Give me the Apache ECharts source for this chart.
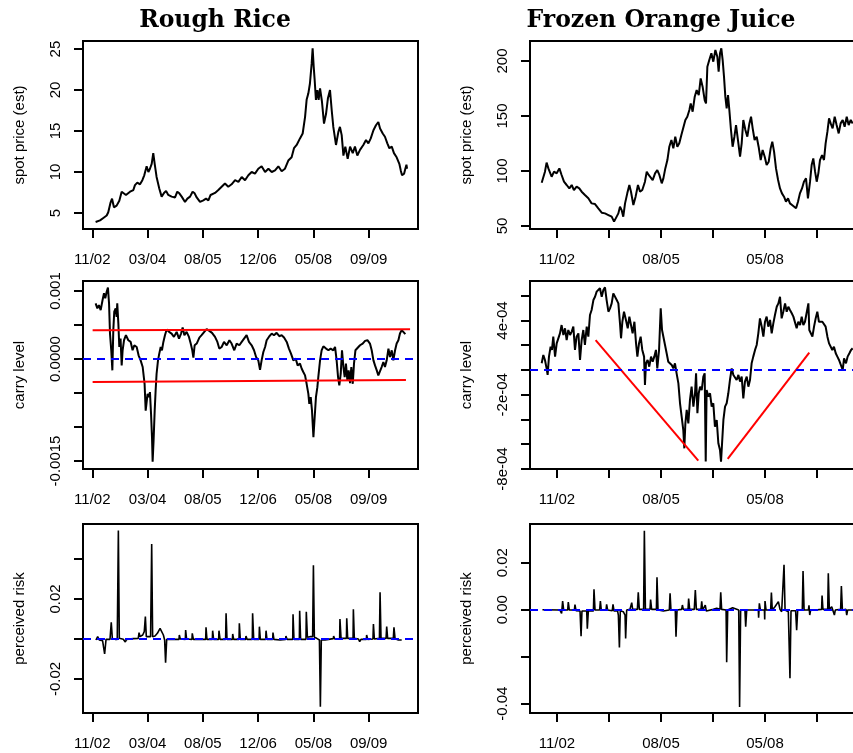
<!DOCTYPE html>
<html>
<head>
<meta charset="utf-8">
<script src="https://cdn.jsdelivr.net/npm/echarts@6/dist/echarts.min.js"></script>
<style>
  html, body { margin: 0; padding: 0; background: #ffffff; }
  #chart { width: 853px; height: 753px; }
</style>
</head>
<body>
<div id="chart"></div>
<script>
// ---- time axis: trading-day index, labelled by month/year ----
const xTickDays   = [0, 350, 700, 1050, 1400, 1750];
const xTickLabels = ['11/02', '03/04', '08/05', '12/06', '05/08', '09/09'];
const riceXLabelDays = [0, 350, 700, 1050, 1400, 1750];
const ojXLabelDays   = [0, 700, 1400];

// ---- Rough Rice: estimated spot price ----
const riceSpotDays = [21,49,70,91,101,116,125,137,154,171,186,196,213,239,260,270,285,302,317,329,344,355,365,376,386,395,407,424,439,454,467,481,502,524,538,551,566,587,602,619,635,648,661,682,703,720,735,749,777,798,819,840,861,882,904,925,946,967,988,1009,1030,1051,1072,1094,1115,1136,1157,1178,1199,1220,1241,1262,1277,1294,1315,1332,1347,1357,1368,1378,1389,1395,1402,1408,1416,1425,1433,1442,1454,1467,1480,1492,1505,1516,1526,1543,1558,1568,1579,1590,1602,1617,1632,1649,1663,1678,1695,1716,1733,1748,1763,1780,1796,1811,1822,1839,1853,1868,1881,1896,1910,1927,1944,1953,1961,1974,1982,1989,1993];
const riceSpotVals = [3.9,4.1,4.4,4.7,5.1,6.3,6.75,5.7,5.9,6.5,7.6,7.8,7.2,7.6,7.8,8.4,8.7,8.5,9.0,9.6,10.7,10.0,10.4,11.0,12.3,11.0,9.4,8.0,7.0,7.45,7.7,7.2,7.0,6.9,7.6,7.4,7.0,6.35,6.75,7.0,7.6,7.4,6.9,6.35,6.55,6.75,6.55,7.2,7.45,7.8,8.2,8.6,8.2,8.5,9.0,8.8,9.4,9.0,9.6,10.0,9.8,10.4,10.7,10.0,10.4,10.0,10.2,10.7,10.1,10.4,11.4,11.8,12.9,13.3,14.1,14.7,16.7,18.8,19.6,20.8,23.25,25.1,22.8,21.2,18.8,20.0,18.8,20.2,18.6,15.9,17.1,19.0,20.0,17.5,15.5,13.3,14.9,15.5,14.5,12.0,13.1,11.6,13.1,12.3,13.1,12.0,12.7,13.3,13.9,13.5,14.1,15.1,15.7,16.1,15.3,14.7,14.3,13.5,12.9,13.1,12.3,11.8,11.0,10.2,9.6,9.8,10.4,10.9,10.4];

// ---- Rough Rice: carry level ----
const riceCarryDays = [21,32,42,53,65,74,82,91,99,106,112,120,127,133,139,148,154,158,165,171,179,186,192,201,213,228,243,255,266,281,293,306,319,331,338,344,350,359,365,372,378,382,388,395,401,407,416,424,433,441,450,460,471,486,502,517,534,549,562,572,583,597,612,623,633,640,648,661,678,692,709,724,741,758,777,792,804,819,834,851,868,882,899,914,931,946,961,977,992,1009,1024,1037,1051,1062,1072,1083,1094,1104,1121,1136,1150,1167,1184,1199,1214,1231,1245,1258,1273,1288,1300,1315,1326,1336,1347,1357,1368,1374,1383,1391,1400,1408,1416,1425,1431,1442,1452,1463,1480,1495,1509,1526,1537,1547,1556,1564,1573,1581,1590,1598,1606,1615,1623,1632,1640,1649,1657,1666,1678,1695,1712,1727,1742,1758,1769,1780,1790,1801,1811,1822,1832,1843,1853,1864,1875,1885,1896,1906,1917,1927,1938,1948,1959,1970,1982];
const riceCarryVals = [8.18e-4,7.44e-4,7.93e-4,7.19e-4,8.67e-4,9.66e-4,8.92e-4,9.9e-4,10.5e-4,8.18e-4,3.74e-4,1.28e-4,-1.67e-4,4.24e-4,6.95e-4,7.44e-4,6.2e-4,8.18e-4,5.22e-4,1.77e-4,3.0e-4,-0.94e-4,1.28e-4,2.76e-4,3.5e-4,2.76e-4,2.51e-4,1.28e-4,2.02e-4,1.77e-4,0.54e-4,-0.2e-4,-1.18e-4,-3.65e-4,-7.59e-4,-6.35e-4,-5.12e-4,-5.62e-4,-4.88e-4,-8.08e-4,-11.5e-4,-15.1e-4,-12.0e-4,-7.59e-4,-4.63e-4,-2.17e-4,-0.2e-4,0.79e-4,1.77e-4,1.28e-4,2.51e-4,3.5e-4,4.33e-4,3.99e-4,3.74e-4,3.25e-4,3.99e-4,3.0e-4,3.74e-4,4.63e-4,3.5e-4,3.99e-4,3.25e-4,2.27e-4,1.28e-4,0.2e-4,2.02e-4,2.27e-4,3.15e-4,3.5e-4,3.99e-4,4.38e-4,4.14e-4,3.84e-4,3.25e-4,2.51e-4,1.53e-4,1.77e-4,2.51e-4,2.02e-4,2.76e-4,2.27e-4,1.28e-4,2.27e-4,2.02e-4,2.51e-4,3.0e-4,3.5e-4,2.51e-4,2.02e-4,1.28e-4,0.3e-4,-0.2e-4,-1.58e-4,-0.2e-4,1.03e-4,1.77e-4,2.76e-4,3.35e-4,3.74e-4,3.5e-4,3.84e-4,3.35e-4,3.5e-4,3.15e-4,2.51e-4,1.53e-4,0.79e-4,-0.2e-4,0.05e-4,-0.94e-4,-0.69e-4,-1.43e-4,-1.92e-4,-2.41e-4,-3.65e-4,-5.12e-4,-6.6e-4,-5.62e-4,-7.59e-4,-11.5e-4,-8.57e-4,-5.62e-4,-4.14e-4,-2.66e-4,-0.2e-4,1.28e-4,1.87e-4,1.53e-4,1.28e-4,1.53e-4,1.28e-4,1.77e-4,-0.2e-4,-2.66e-4,-3.89e-4,-2.17e-4,1.28e-4,-1.18e-4,-2.66e-4,-0.69e-4,-3.15e-4,-1.67e-4,-3.55e-4,-1.18e-4,-3.65e-4,-0.69e-4,1.28e-4,1.53e-4,2.02e-4,2.27e-4,2.66e-4,2.76e-4,2.27e-4,1.28e-4,-0.2e-4,-0.94e-4,-1.67e-4,-2.41e-4,-2.66e-4,-1.18e-4,-0.44e-4,-1.18e-4,-0.2e-4,1.53e-4,0.3e-4,1.28e-4,-0.2e-4,1.28e-4,2.27e-4,2.76e-4,3.74e-4,4.24e-4,3.99e-4,3.65e-4];
// carry bands
const riceBandUpperDays = [2, 2012];
const riceBandUpperVals = [4.24e-4, 4.38e-4];
const riceBandLowerDays = [2, 1986];
const riceBandLowerVals = [-3.40e-4, -3.10e-4];

// ---- Rough Rice: perceived risk ----
const riceRiskDays = [23,34,44,65,78,87,112,120,127,144,158,165,171,196,209,217,260,291,296,302,319,329,336,342,355,369,376,382,397,412,429,439,450,458,464,471,513,549,551,557,589,591,597,631,633,640,718,720,726,760,762,768,800,802,809,844,847,853,887,889,895,929,931,937,971,973,980,1013,1015,1022,1056,1058,1064,1098,1100,1106,1142,1144,1150,1189,1224,1226,1233,1269,1271,1277,1311,1313,1319,1353,1355,1362,1378,1395,1400,1406,1421,1438,1444,1450,1473,1484,1495,1526,1528,1535,1566,1568,1575,1609,1611,1617,1651,1653,1659,1685,1693,1701,1735,1737,1744,1777,1780,1786,1818,1822,1828,1860,1864,1870,1906,1910,1917,1938,1948,1959];
const riceRiskVals = [-0.0005,0.00117,-0.0005,-0.00083,-0.0075,-0.00017,-0.00017,0.00833,0.00017,-0.00017,-0.00017,0.0542,0.00033,-0.00017,-0.0015,-0.00017,0.00017,0.00033,0.00317,0.00117,0.002,0.00367,0.01117,0.00117,0.00117,0.00117,0.0475,0.00117,0.0015,0.00283,0.00533,0.00583,0.002,-0.0005,-0.01183,-0.00017,-0.00017,-0.00017,0.002,0,-0.00017,0.0045,0,-0.00017,0.00283,-0.00017,-0.00017,0.00583,-0.00017,-0.00017,0.00417,-0.00017,-0.00017,0.00417,-0.00017,-0.00017,0.01283,-0.00017,-0.00017,0.0025,-0.00017,-0.00017,0.00783,-0.00017,-0.00017,0.0015,-0.00017,-0.00017,0.01283,-0.00017,-0.00017,0.00617,-0.00017,-0.00017,0.00417,-0.00017,-0.00017,0.00317,-0.00017,-0.0005,-0.00017,0.0015,-0.00017,-0.00017,0.01233,-0.00017,-0.00017,0.01417,-0.00017,-0.00017,0.01367,0.00083,0.00117,0.00117,0.03683,0.00083,0.00033,-0.0005,-0.03383,-0.0005,-0.0005,-0.0015,-0.00017,0.00017,0.0015,0,0,0.01,0.00033,0.00033,0.01033,0.00033,0.00033,0.01483,0.00033,0,-0.00133,-0.00017,-0.00017,0.002,-0.00017,0,0.0075,0,0.00033,0.02333,0.00033,0.00033,0.00617,0.00033,0.00033,0.00583,0.00017,-0.0005,-0.00133,-0.0005];

// ---- Frozen Orange Juice: estimated spot price ----
const ojSpotDays = [-103,-92,-81,-70,-58,-47,-36,-20,-2,16,31,47,65,83,99,114,132,150,166,188,211,233,256,278,301,323,346,368,384,397,413,424,435,446,458,473,487,498,514,529,545,559,574,592,604,617,630,644,660,675,689,705,716,729,743,756,770,783,796,810,823,837,850,864,877,891,900,913,927,940,954,967,980,994,1003,1012,1025,1039,1052,1066,1079,1088,1097,1106,1115,1124,1133,1142,1151,1160,1171,1182,1194,1205,1218,1232,1243,1254,1268,1281,1295,1306,1317,1330,1344,1357,1371,1384,1398,1411,1425,1438,1449,1461,1474,1488,1501,1514,1528,1541,1555,1568,1582,1595,1609,1622,1635,1649,1662,1676,1689,1703,1714,1725,1737,1748,1759,1770,1784,1797,1808,1820,1831,1842,1855,1869,1882,1896,1909,1923,1936,1950,1963,1977,1990];
const ojSpotVals = [89.4,90.3,99.4,107.6,102.4,103.9,94.8,99.4,97.9,102.4,96.4,90.3,87.3,84.2,87.3,82.7,85.8,84.2,81.2,78.2,75.2,70.6,70.0,66.1,62.1,61.5,60.0,58.5,54.0,54.0,61.5,67.6,64.5,58.5,70.6,79.7,87.3,81.2,69.1,76.7,87.3,81.2,82.7,90.3,99.4,96.4,94.8,91.8,97.9,100.9,96.4,88.8,93.3,102.4,110.0,122.1,128.2,120.6,131.2,122.1,125.2,132.7,134.2,146.4,149.4,155.5,161.5,153.9,167.6,173.6,169.1,184.2,176.7,164.5,161.5,194.8,200.9,207.0,199.4,210.0,203.9,190.3,207.0,211.5,200.9,185.8,167.6,157.0,169.1,155.5,137.3,122.1,131.2,141.8,128.2,113.0,125.2,146.4,137.3,131.2,143.3,149.4,138.8,128.2,131.2,122.1,110.0,119.1,113.0,105.5,108.5,120.6,126.7,117.6,102.4,91.8,84.2,79.7,76.7,72.1,75.2,70.6,69.1,67.6,66.1,72.1,79.7,84.2,90.3,93.3,75.2,90.3,105.5,111.5,99.4,90.3,97.9,110.0,114.5,110.0,125.2,135.8,147.9,143.3,138.8,149.4,141.8,134.2,143.3,146.4,140.3,149.4,141.8,146.4,143.3];

// ---- Frozen Orange Juice: carry level ----
const ojCarryDays = [-103,-92,-81,-70,-63,-54,-43,-34,-25,-13,-2,9,20,31,43,54,65,76,88,99,110,121,132,144,155,166,177,188,200,211,222,233,245,256,267,278,289,301,312,323,334,346,357,368,379,390,402,413,424,431,440,451,464,476,487,498,509,521,532,541,552,563,574,586,592,599,610,621,633,644,655,666,675,687,698,707,716,727,738,749,761,772,783,794,805,817,828,839,850,857,864,873,884,895,906,918,929,936,945,954,963,974,985,994,1001,1007,1019,1030,1041,1052,1063,1075,1086,1097,1104,1111,1120,1131,1142,1153,1164,1176,1187,1198,1209,1221,1232,1243,1254,1265,1277,1288,1299,1310,1321,1333,1344,1355,1366,1378,1389,1400,1411,1422,1434,1445,1456,1467,1479,1490,1501,1512,1523,1535,1546,1557,1568,1580,1591,1602,1613,1624,1636,1647,1658,1669,1680,1692,1698,1707,1719,1730,1741,1752,1763,1775,1786,1797,1808,1820,1831,1842,1853,1864,1876,1887,1898,1909,1923,1932,1945,1956,1968,1979,1990];
const ojCarryVals = [0.54e-4,1.21e-4,0.81e-4,0.13e-4,-0.40e-4,1.08e-4,1.88e-4,1.62e-4,2.69e-4,1.08e-4,2.15e-4,2.29e-4,2.96e-4,3.63e-4,2.83e-4,3.37e-4,2.42e-4,3.23e-4,2.83e-4,3.10e-4,3.50e-4,1.62e-4,2.69e-4,2.96e-4,0.81e-4,2.42e-4,3.23e-4,2.02e-4,3.50e-4,2.69e-4,4.44e-4,4.85e-4,5.65e-4,5.92e-4,6.33e-4,6.19e-4,6.60e-4,5.92e-4,6.46e-4,6.68e-4,5.65e-4,4.71e-4,4.98e-4,5.38e-4,6.19e-4,6.33e-4,5.65e-4,5.38e-4,3.77e-4,2.56e-4,3.90e-4,4.71e-4,4.04e-4,3.37e-4,4.31e-4,3.63e-4,2.96e-4,3.90e-4,2.15e-4,1.08e-4,2.15e-4,2.69e-4,1.62e-4,1.08e-4,-1.21e-4,0.54e-4,0.81e-4,0.27e-4,1.08e-4,0.67e-4,1.08e-4,1.62e-4,0.13e-4,1.62e-4,4.98e-4,3.23e-4,2.69e-4,2.02e-4,1.35e-4,0.67e-4,0.54e-4,0.40e-4,0.13e-4,0.54e-4,-0.27e-4,-1.08e-4,-2.69e-4,-3.77e-4,-4.85e-4,-6.33e-4,-4.31e-4,-3.23e-4,-4.31e-4,-2.42e-4,-1.35e-4,-2.96e-4,-1.88e-4,-0.27e-4,-3.50e-4,-1.88e-4,-1.35e-4,-1.62e-4,-0.54e-4,-0.27e-4,-7.40e-4,-1.62e-4,-2.15e-4,-1.88e-4,-2.96e-4,-2.69e-4,-4.58e-4,-4.04e-4,-5.92e-4,-6.46e-4,-7.40e-4,-5.92e-4,-4.04e-4,-2.96e-4,-2.69e-4,-1.88e-4,-0.81e-4,0.13e-4,-0.40e-4,-0.27e-4,-0.81e-4,-0.40e-4,-0.94e-4,-0.54e-4,-2.29e-4,-0.94e-4,-0.54e-4,-1.35e-4,-0.81e-4,0.54e-4,1.08e-4,1.62e-4,2.02e-4,2.96e-4,4.17e-4,3.50e-4,2.69e-4,3.90e-4,4.31e-4,3.50e-4,4.04e-4,2.96e-4,3.77e-4,4.44e-4,5.11e-4,5.38e-4,5.92e-4,4.17e-4,4.71e-4,5.38e-4,4.71e-4,5.11e-4,4.85e-4,4.58e-4,4.31e-4,4.44e-4,3.37e-4,3.90e-4,3.63e-4,4.31e-4,3.63e-4,3.90e-4,4.04e-4,5.38e-4,3.23e-4,3.37e-4,2.69e-4,3.50e-4,4.17e-4,4.71e-4,3.90e-4,4.04e-4,3.90e-4,3.77e-4,3.50e-4,2.69e-4,2.15e-4,2.15e-4,1.62e-4,1.88e-4,1.35e-4,1.08e-4,0.81e-4,0.94e-4,0,0.94e-4,0.54e-4,1.08e-4,1.35e-4,1.62e-4,1.75e-4];
// trend guides
const ojFallDays = [260, 951];
const ojFallVals = [2.42e-4, -7.32e-4];
const ojRiseDays = [1149, 1698];
const ojRiseVals = [-7.19e-4, 1.40e-4];

// ---- Frozen Orange Juice: perceived risk ----
const ojRiskDays = [-98,20,31,38,45,72,76,83,117,121,128,155,162,168,200,204,211,245,249,256,287,292,298,330,334,341,372,377,384,408,413,420,426,446,458,462,469,491,503,509,541,547,554,583,588,595,626,630,637,669,673,680,716,727,756,761,767,796,801,808,839,844,850,882,886,893,924,931,938,969,974,980,998,1005,1012,1052,1075,1097,1102,1108,1138,1142,1149,1182,1191,1223,1229,1236,1265,1270,1277,1310,1355,1357,1362,1369,1396,1398,1400,1407,1438,1443,1449,1467,1490,1501,1512,1524,1528,1535,1557,1568,1575,1606,1613,1620,1651,1656,1663,1692,1696,1701,1707,1737,1781,1784,1790,1822,1826,1833,1849,1860,1867,1873,1909,1914,1921,1945,1950,1956,1990];
const ojRiskVals = [0,-0.00014,-0.00157,0.0037,-0.00014,-0.00014,0.00327,-0.00014,-0.00014,0.00214,-0.00043,-0.00057,-0.01125,-0.00057,-0.00057,-0.00811,-0.00057,-0.00057,0.00868,-0.00014,-0.00014,0.0037,-0.00014,-0.00014,0.00228,-0.00014,-0.00043,0.00228,-0.00057,-0.00057,-0.00228,-0.01609,-0.00043,-0.00085,-0.00228,-0.01224,-0.00014,0.00014,0.00299,0.00014,0.00014,0.0074,0.00014,0.00014,0.0336,0.00014,0.00014,0.00427,0.00014,0.00014,0.01381,-0.00014,-0.00057,-0.00014,-0.00014,0.00698,-0.00014,-0.00014,-0.01153,-0.00014,0.00014,0.00199,0.00014,0.00014,0.0047,0.00014,0.00014,0.0084,0.00014,0.00014,0.00356,-0.00014,0.00199,-0.00057,-0.00085,0.00014,0.00057,0.00014,0.0074,0.00014,-0.00014,-0.02235,-0.00014,0.00085,0.00014,-0.00014,-0.04142,-0.00014,-0.00014,-0.00726,-0.00014,-0.00014,-0.00014,-0.00342,0.0027,-0.00014,-0.00014,-0.00413,0.0037,-0.00014,-0.00014,0.00726,-0.00014,0.00128,0.00342,0.00014,-0.00085,-0.00057,0.01907,-0.00014,-0.00085,-0.02918,-0.00043,-0.00043,-0.00868,-0.00014,-0.00014,0.01651,-0.00014,-0.00014,0.00185,-0.00228,-0.00014,-0.00014,0.00014,0.00598,0.00014,0.00014,0.01552,0.00014,0.00128,0.00157,-0.00228,-0.00014,0.00014,0.01011,-0.00014,0.00014,-0.00228,-0.00014,-0.00014];

// ---- y-axis ticks and labels per panel ----
const riceSpotTicks = [5, 10, 15, 20, 25];
const riceSpotLabelVals = [5, 10, 15, 20, 25];
const riceSpotLabelText = ['5', '10', '15', '20', '25'];
const ojSpotTicks = [50, 100, 150, 200];
const ojSpotLabelVals = [50, 100, 150, 200];
const ojSpotLabelText = ['50', '100', '150', '200'];
const riceCarryTicks = [-0.0015, -0.001, -0.0005, 0, 0.0005, 0.001];
const riceCarryLabelVals = [-0.0015, 0, 0.001];
const riceCarryLabelText = ['-0.0015', '0.0000', '0.001'];
const ojCarryTicks = [-8e-4, -6e-4, -4e-4, -2e-4, 0, 2e-4, 4e-4, 6e-4];
const ojCarryLabelVals = [-8e-4, -2e-4, 4e-4];
const ojCarryLabelText = ['-8e-04', '-2e-04', '4e-04'];
const riceRiskTicks = [-0.02, 0, 0.02, 0.04];
const riceRiskLabelVals = [-0.02, 0.02];
const riceRiskLabelText = ['-0.02', '0.02'];
const ojRiskTicks = [-0.04, -0.02, 0, 0.02];
const ojRiskLabelVals = [-0.04, 0, 0.02];
const ojRiskLabelText = ['-0.04', '0.00', '0.02'];

// ---- drawing ----
const FONT = '"Liberation Sans", Arial, Helvetica, sans-serif';
const BLACK = '#000000';

function zip(xs, ys) { return xs.map((x, i) => [x, ys[i]]); }

const grids = [
  { left: 83,  top: 41,  width: 335, height: 188 },
  { left: 530, top: 41,  width: 335, height: 188 },
  { left: 83,  top: 281, width: 335, height: 188 },
  { left: 530, top: 281, width: 335, height: 188 },
  { left: 83,  top: 524, width: 335, height: 189 },
  { left: 530, top: 524, width: 335, height: 189 }
].map(g => Object.assign(g, {
  show: true, borderColor: BLACK, borderWidth: 2,
  backgroundColor: 'transparent', containLabel: false, outerBoundsMode: 'none'
}));

function xAxisFor(gridIndex, min, max, labelDays) {
  return {
    type: 'value', gridIndex, min, max, position: 'bottom',
    axisLine: { show: false, onZero: false },
    splitLine: { show: false },
    axisTick: { show: true, length: 9, lineStyle: { color: BLACK, width: 2 }, customValues: xTickDays },
    axisLabel: {
      show: true, margin: 23, fontSize: 15, color: BLACK, fontFamily: FONT,
      customValues: labelDays, showMinLabel: true, showMaxLabel: true,
      formatter: v => { const i = xTickDays.indexOf(v); return i >= 0 ? xTickLabels[i] : ''; }
    }
  };
}

function yAxisFor(gridIndex, min, max, ticks, labelVals, labelText, name) {
  return {
    type: 'value', gridIndex, min, max, position: 'left',
    name, nameLocation: 'middle', nameGap: 56, nameRotate: 90,
    nameTextStyle: { fontSize: 15, color: BLACK, fontFamily: FONT },
    axisLine: { show: false, onZero: false },
    splitLine: { show: false },
    axisTick: { show: true, length: 9, lineStyle: { color: BLACK, width: 2 }, customValues: ticks },
    axisLabel: {
      show: true, rotate: 90, margin: 20, fontSize: 15, color: BLACK, fontFamily: FONT,
      customValues: labelVals, showMinLabel: true, showMaxLabel: true,
      formatter: v => {
        for (let i = 0; i < labelVals.length; i++) {
          if (Math.abs(labelVals[i] - v) < 1e-12) return labelText[i];
        }
        return '';
      }
    }
  };
}

const zeroLine = {
  silent: true, symbol: ['none', 'none'], animation: false,
  label: { show: false },
  lineStyle: { color: '#0000ff', width: 2, type: [8, 6] },
  emphasis: { disabled: true },
  data: [{ yAxis: 0 }]
};

function seriesLine(idx, data, color, width, withZero) {
  const s = {
    type: 'line', xAxisIndex: idx, yAxisIndex: idx, data,
    showSymbol: false, symbol: 'none', silent: true, clip: true,
    lineStyle: { color, width }, emphasis: { disabled: true }, animation: false
  };
  if (withZero) s.markLine = zeroLine;
  return s;
}

const RICE_X = [-58.9, 2062.2];
const OJ_X = [-181.7, 2073];

const option = {
  animation: false,
  backgroundColor: '#ffffff',
  textStyle: { fontFamily: FONT, color: BLACK },
  grid: grids,
  xAxis: [
    xAxisFor(0, RICE_X[0], RICE_X[1], riceXLabelDays),
    xAxisFor(1, OJ_X[0], OJ_X[1], ojXLabelDays),
    xAxisFor(2, RICE_X[0], RICE_X[1], riceXLabelDays),
    xAxisFor(3, OJ_X[0], OJ_X[1], ojXLabelDays),
    xAxisFor(4, RICE_X[0], RICE_X[1], riceXLabelDays),
    xAxisFor(5, OJ_X[0], OJ_X[1], ojXLabelDays)
  ],
  yAxis: [
    yAxisFor(0, 3.05, 25.98, riceSpotTicks, riceSpotLabelVals, riceSpotLabelText, 'spot price (est)'),
    yAxisFor(1, 47.3, 218.2, ojSpotTicks, ojSpotLabelVals, ojSpotLabelText, 'spot price (est)'),
    yAxisFor(2, -0.001618, 0.001147, riceCarryTicks, riceCarryLabelVals, riceCarryLabelText, 'carry level'),
    yAxisFor(3, -0.0008, 0.000719, ojCarryTicks, ojCarryLabelVals, ojCarryLabelText, 'carry level'),
    yAxisFor(4, -0.037, 0.0575, riceRiskTicks, riceRiskLabelVals, riceRiskLabelText, 'perceived risk'),
    yAxisFor(5, -0.04396, 0.03647, ojRiskTicks, ojRiskLabelVals, ojRiskLabelText, 'perceived risk')
  ],
  series: [
    seriesLine(0, zip(riceSpotDays, riceSpotVals), BLACK, 2, false),
    seriesLine(1, zip(ojSpotDays, ojSpotVals), BLACK, 2, false),
    seriesLine(2, zip(riceCarryDays, riceCarryVals), BLACK, 2, true),
    seriesLine(2, zip(riceBandUpperDays, riceBandUpperVals), '#ff0000', 2, false),
    seriesLine(2, zip(riceBandLowerDays, riceBandLowerVals), '#ff0000', 2, false),
    seriesLine(3, zip(ojCarryDays, ojCarryVals), BLACK, 2, true),
    seriesLine(3, zip(ojFallDays, ojFallVals), '#ff0000', 2, false),
    seriesLine(3, zip(ojRiseDays, ojRiseVals), '#ff0000', 2, false),
    seriesLine(4, zip(riceRiskDays, riceRiskVals), BLACK, 1.6, true),
    seriesLine(5, zip(ojRiskDays, ojRiskVals), BLACK, 1.6, true)
  ],
  graphic: [
    { type: 'text', x: 215, y: 9, silent: true,
      style: { text: 'Rough Rice', font: 'bold 23.5px "DejaVu Serif", serif', fill: BLACK,
               align: 'center', verticalAlign: 'top', textAlign: 'center', textVerticalAlign: 'top' } },
    { type: 'text', x: 661, y: 9, silent: true,
      style: { text: 'Frozen Orange Juice', font: 'bold 23.5px "DejaVu Serif", serif', fill: BLACK,
               align: 'center', verticalAlign: 'top', textAlign: 'center', textVerticalAlign: 'top' } }
  ]
};

const chart = echarts.init(document.getElementById('chart'), null, { renderer: 'canvas', width: 853, height: 753 });
chart.setOption(option);
</script>
</body>
</html>
